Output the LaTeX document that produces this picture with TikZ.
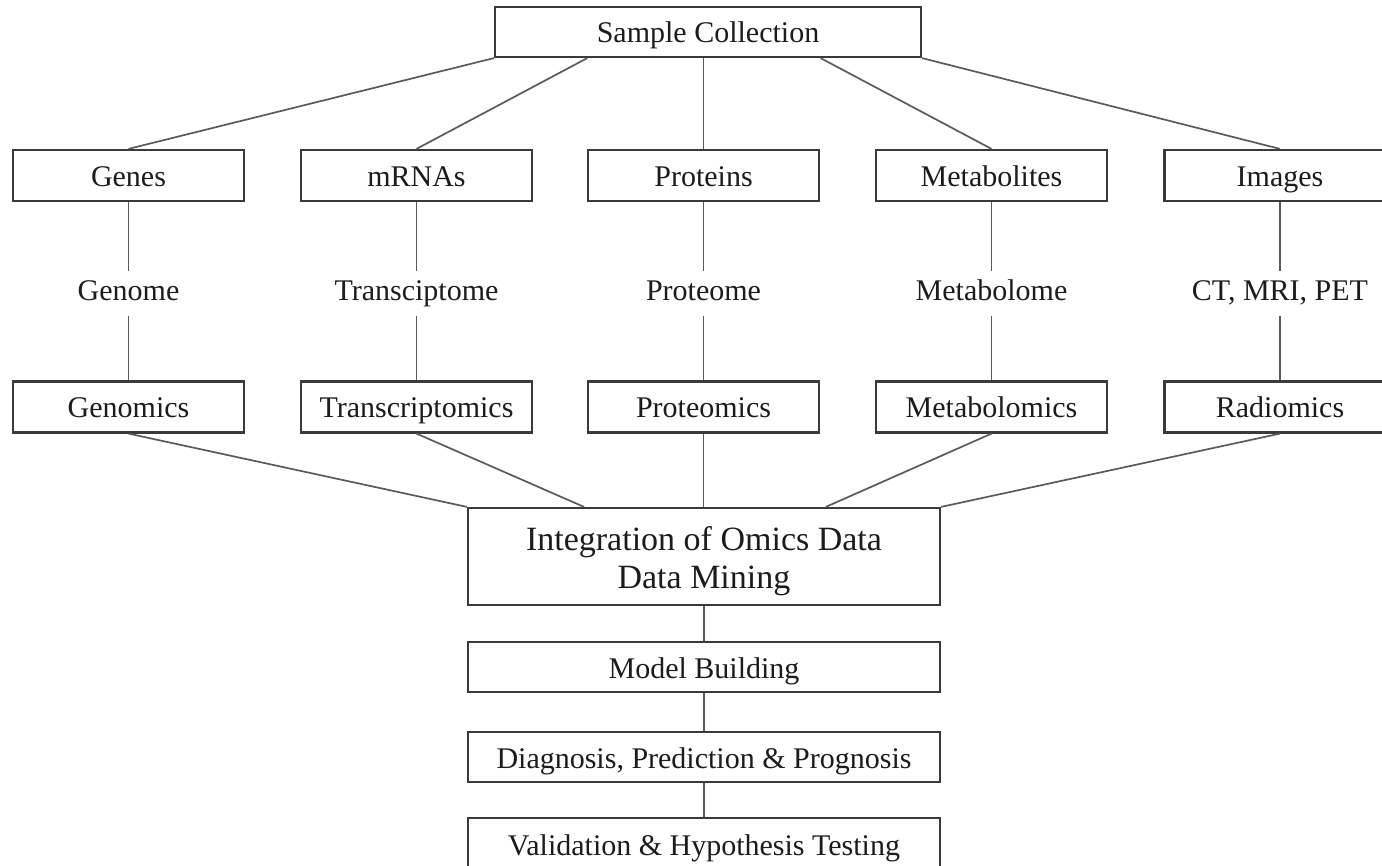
\documentclass[tikz,border=0pt]{standalone}
\usepackage{fontspec}
\setmainfont{Liberation Serif}
\usetikzlibrary{calc}
\definecolor{boxline}{HTML}{3A3A3A}
\definecolor{linkline}{HTML}{5A5A5A}
\definecolor{ink}{HTML}{1C1C1C}
\tikzset{
  stagebox/.style={draw=boxline, line width=2.2pt, fill=white, inner sep=0pt,
    text=ink, font=\fontsize{30}{36}\selectfont,
    text height=22pt, text depth=0pt},
  omicbox/.style={stagebox, minimum width=231pt, minimum height=51pt},
  flowbox/.style={stagebox, minimum width=472pt, minimum height=50pt},
  layer/.style={inner xsep=0pt, inner ysep=8.5pt, text=ink,
    font=\fontsize{30}{36}\selectfont, text height=21pt, text depth=7pt},
  link/.style={draw=linkline, line width=1.7pt}
}
\begin{document}
\begin{tikzpicture}[x=1pt, y=-1pt]
\useasboundingbox (0,0) rectangle (1382,866);
\clip (0,0) rectangle (1382,866);

% source
\node[stagebox, minimum width=426pt, minimum height=50pt] (sc) at (708,32) {Sample Collection};

% molecular / imaging layers
\node[omicbox] (genes) at (128.5,175.5) {Genes};
\node[omicbox] (mrna)  at (416.5,175.5) {mRNAs};
\node[omicbox] (prot)  at (703.5,175.5) {Proteins};
\node[omicbox] (metab) at (991.5,175.5) {Metabolites};
\node[omicbox] (img)   at (1280,175.5)  {Images};

\node[layer] (genome) at (128.5,293.5) {Genome};
\node[layer] (transc) at (416.5,293.5) {Transciptome};
\node[layer] (proteo) at (703.5,293.5) {Proteome};
\node[layer] (metabo) at (991.5,293.5) {Metabolome};
\node[layer] (modal)  at (1280,293.5)  {CT, MRI, PET};

\node[omicbox] (genomics) at (128.5,407) {Genomics};
\node[omicbox] (transcr)  at (416.5,407) {Transcriptomics};
\node[omicbox] (proteom)  at (703.5,407) {Proteomics};
\node[omicbox] (metabol)  at (991.5,407) {Metabolomics};
\node[omicbox] (radiom)   at (1280,407)  {Radiomics};

% downstream pipeline
\node[draw=boxline, line width=2.2pt, fill=white, inner sep=0pt, text=ink,
      minimum width=472pt, minimum height=97pt, align=center,
      font=\fontsize{34}{38}\selectfont]
      (integ) at (704,556.5) {\rule{0pt}{33pt}Integration of Omics Data\\Data Mining};
\node[flowbox] (model) at (704,667) {Model Building};
\node[flowbox] (diag)  at (704,757) {Diagnosis, Prediction \& Prognosis};
\node[flowbox, minimum height=52pt] (valid) at (704,844) {Validation \& Hypothesis Testing};

% fan-out points on the source and integration boxes
\coordinate (sc2) at ($(sc.south west)!0.218!(sc.south east)$);
\coordinate (sc4) at ($(sc.south west)!0.763!(sc.south east)$);
\coordinate (in2) at ($(integ.north west)!0.247!(integ.north east)$);
\coordinate (in4) at ($(integ.north west)!0.757!(integ.north east)$);

% source to layers
\draw[link] (sc.south west) -- (genes.north);
\draw[link] (sc2) -- (mrna.north);
\draw[link] (prot.north) -- (prot.north |- sc.south);
\draw[link] (sc4) -- (metab.north);
\draw[link] (sc.south east) -- (img.north);

% layer columns
\foreach \a/\b/\c in {genes/genome/genomics, mrna/transc/transcr, prot/proteo/proteom,
                      metab/metabo/metabol, img/modal/radiom}{
  \draw[link] (\a.south) -- (\b.north);
  \draw[link] (\b.south) -- (\c.north);
}

% layers to integration
\draw[link] (genomics.south) -- (integ.north west);
\draw[link] (transcr.south) -- (in2);
\draw[link] (proteom.south) -- (proteom.south |- integ.north);
\draw[link] (metabol.south) -- (in4);
\draw[link] (radiom.south) -- (integ.north east);

% pipeline chain
\draw[link] (integ.south) -- (model.north);
\draw[link] (model.south) -- (diag.north);
\draw[link] (diag.south) -- (valid.north);
\end{tikzpicture}
\end{document}
